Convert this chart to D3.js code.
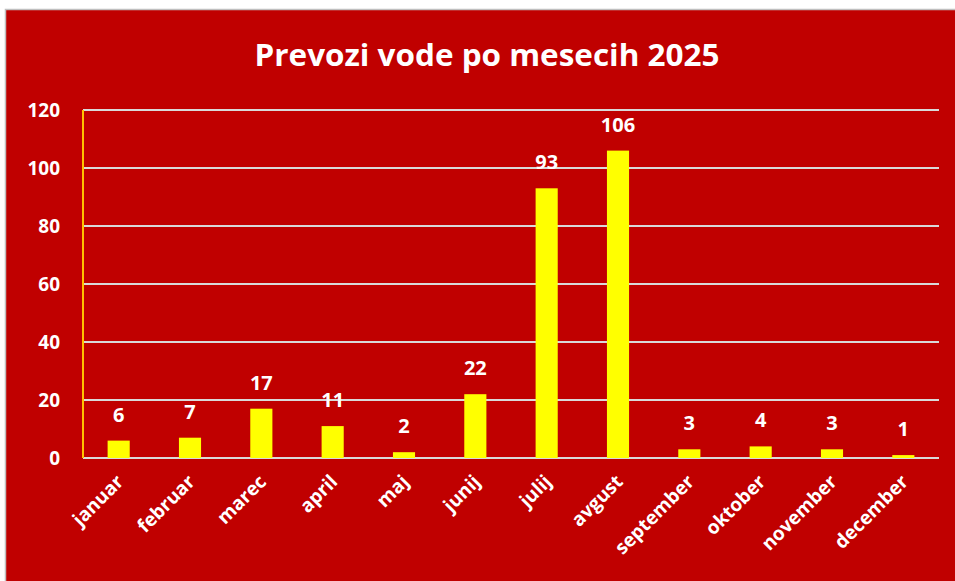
<!DOCTYPE html>
<html>
<head>
<meta charset="utf-8">
<script src="https://cdn.jsdelivr.net/npm/d3@7"></script>
<style>
  body { margin:0; background:#fff; }
  svg { display:block; }
  text { font-family: "Open Sans", "Noto Sans", sans-serif; font-weight:700; fill:#fff; }
</style>
</head>
<body>
<svg id="chart" width="955" height="581"></svg>
<script>
var months = ['januar','februar','marec','april','maj','junij','julij','avgust','september','oktober','november','december'];
var prevozi = [6, 7, 17, 11, 2, 22, 93, 106, 3, 4, 3, 1];
var yTicks = [0, 20, 40, 60, 80, 100, 120];
var title = 'Prevozi vode po mesecih 2025';

var svg = d3.select('#chart');
var W = 955, H = 581;
var m = {left:83, right:16, top:110, bottom:123};

// chart background with thin grey frame
svg.append('rect')
  .attr('x',5.5).attr('y',9.5)
  .attr('width',W).attr('height',H)
  .attr('fill','#C00000')
  .attr('stroke','#BFBFBF').attr('stroke-width',1.5);

svg.append('text')
  .attr('x',487).attr('y',66)
  .attr('text-anchor','middle')
  .style('font-size','31px')
  .attr('textLength',465).attr('lengthAdjust','spacingAndGlyphs')
  .text(title);

var x = d3.scaleBand().domain(months).range([m.left, W-m.right]).paddingInner(0.69).paddingOuter(0.345);
var y = d3.scaleLinear().domain([0,120]).range([H-m.bottom, m.top]);

// gridlines
svg.append('g').selectAll('line').data(yTicks).join('line')
  .attr('x1',m.left).attr('x2',W-m.right)
  .attr('y1',function(d){return y(d);}).attr('y2',function(d){return y(d);})
  .attr('stroke','#D9D9D9').attr('stroke-width',2);

// y axis line
svg.append('line')
  .attr('x1',m.left).attr('x2',m.left)
  .attr('y1',y(120)).attr('y2',y(0))
  .attr('stroke','#FFC000').attr('stroke-width',2);

var yAxis = svg.append('g')
  .attr('transform','translate('+(m.left-10)+',0)')
  .call(d3.axisLeft(y).tickValues(yTicks).tickSize(0).tickPadding(13));
yAxis.select('.domain').remove();
yAxis.selectAll('text')
  .style('font-size','19px').style('font-family','"Open Sans", sans-serif').attr('fill','#fff');

// bars
svg.append('g').selectAll('rect').data(prevozi).join('rect')
  .attr('x',function(d,i){return x(months[i]);})
  .attr('width',x.bandwidth())
  .attr('y',function(d){return y(d);})
  .attr('height',function(d){return y(0)-y(d);})
  .attr('fill','#FFFF00');

// value labels
svg.append('g').selectAll('text').data(prevozi).join('text')
  .attr('x',function(d,i){return x(months[i])+x.bandwidth()/2;})
  .attr('y',function(d){return y(d)-19;})
  .attr('text-anchor','middle')
  .style('font-size','20px')
  .text(function(d){return d;});

// x labels
svg.append('g').selectAll('text').data(months).join('text')
  .attr('transform',function(d){
    var cx = x(d)+x.bandwidth()/2+6;
    return 'translate('+cx+','+(y(0)+25)+') rotate(-45)';
  })
  .attr('text-anchor','end')
  .style('font-size','19px')
  .text(function(d){return d;});
</script>
</body>
</html>
